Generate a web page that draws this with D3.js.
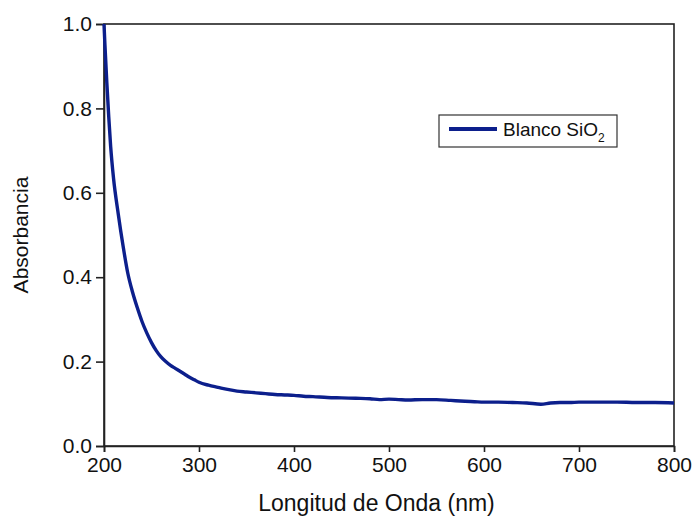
<!DOCTYPE html>
<html>
<head>
<meta charset="utf-8">
<script src="https://cdn.jsdelivr.net/npm/d3@7"></script>
<style>
  body { margin: 0; background: #fff; }
  text { font-family: 'Liberation Sans', Arial, sans-serif; fill: #111; }
</style>
</head>
<body>
<div id="chart"></div>
<script>
// wavelength (nm) and absorbance
const wavelength = [200, 201, 203, 205, 207, 210, 215, 220, 225, 230, 235, 240, 245, 250, 255, 260, 265, 270, 275, 280, 285, 290, 295, 300, 310, 320, 330, 340, 350, 360, 370, 380, 390, 400, 410, 420, 435, 450, 465, 480, 490, 500, 510, 520, 535, 550, 565, 580, 590, 600, 615, 630, 645, 660, 670, 680, 690, 700, 720, 740, 760, 780, 800];
const absorbance = [1.0, 0.95, 0.86, 0.78, 0.71, 0.635, 0.55, 0.475, 0.41, 0.365, 0.328, 0.295, 0.268, 0.245, 0.226, 0.211, 0.2, 0.191, 0.184, 0.177, 0.17, 0.163, 0.157, 0.151, 0.144, 0.139, 0.134, 0.130, 0.128, 0.126, 0.124, 0.122, 0.121, 0.120, 0.118, 0.117, 0.115, 0.114, 0.113, 0.112, 0.110, 0.111, 0.110, 0.109, 0.110, 0.110, 0.108, 0.106, 0.105, 0.104, 0.104, 0.103, 0.102, 0.099, 0.102, 0.103, 0.103, 0.104, 0.104, 0.104, 0.103, 0.103, 0.102];
const xTicks = [200, 300, 400, 500, 600, 700, 800];
const yTicks = [0.0, 0.2, 0.4, 0.6, 0.8, 1.0];

const style = {
  line: { color: '#0c1f8c', width: 3.4 },
  axis: { color: '#222', width: 1.6 },
  labels: { size: 21 },
};

const margin = { top: 24, right: 21, bottom: 72, left: 104 };
const W = 695, H = 518;
const width = W - margin.left - margin.right;
const height = H - margin.top - margin.bottom;

const x = d3.scaleLinear().domain([200, 800]).range([0, width]);
const y = d3.scaleLinear().domain([0, 1]).range([height, 0]);

const svg = d3.select('#chart').append('svg')
  .attr('width', W)
  .attr('height', H)
  .append('g')
  .attr('transform', `translate(${margin.left}, ${margin.top})`);

// frame
svg.append('rect')
  .attr('width', width)
  .attr('height', height)
  .attr('fill', 'none')
  .attr('stroke', style.axis.color)
  .attr('stroke-width', style.axis.width);

const xAxis = svg.append('g')
  .attr('transform', `translate(0, ${height})`)
  .call(d3.axisBottom(x).tickValues(xTicks).tickSize(6).tickPadding(5).tickFormat(d3.format('d')));

const yAxis = svg.append('g')
  .call(d3.axisLeft(y).tickValues(yTicks).tickSize(8).tickPadding(4).tickFormat(d3.format('.1f')));

[xAxis, yAxis].forEach((g) => {
  g.select('.domain').attr('stroke', style.axis.color).attr('stroke-width', style.axis.width);
  g.selectAll('line').attr('stroke', style.axis.color).attr('stroke-width', style.axis.width);
  g.selectAll('text')
    .attr('font-size', style.labels.size)
    .attr('font-family', "'Liberation Sans', Arial, sans-serif")
    .attr('fill', '#111');
});

// curve
const data = wavelength.map((w, i) => ({ w, a: absorbance[i] }));
svg.append('path')
  .datum(data)
  .attr('fill', 'none')
  .attr('stroke', style.line.color)
  .attr('stroke-width', style.line.width)
  .attr('stroke-linejoin', 'round')
  .attr('d', d3.line().x((d) => x(d.w)).y((d) => y(d.a)).curve(d3.curveMonotoneX));

// axis titles
svg.append('text')
  .attr('x', (255 + 498) / 2 - margin.left)
  .attr('y', 511 - margin.top)
  .attr('text-anchor', 'middle')
  .attr('font-size', 23)
  .text('Longitud de Onda (nm)');

svg.append('text')
  .attr('transform', `translate(${28 - margin.left}, ${235 - margin.top}) rotate(-90)`)
  .attr('text-anchor', 'middle')
  .attr('font-size', 21)
  .text('Absorbancia');

// legend
const legend = svg.append('g')
  .attr('transform', `translate(${439 - margin.left}, ${115 - margin.top})`);
legend.append('rect')
  .attr('width', 178)
  .attr('height', 32)
  .attr('fill', '#fff')
  .attr('stroke', '#333')
  .attr('stroke-width', 1.2);
legend.append('line')
  .attr('x1', 10).attr('x2', 58)
  .attr('y1', 14).attr('y2', 14)
  .attr('stroke', style.line.color)
  .attr('stroke-width', style.line.width + 0.6);
const lt = legend.append('text')
  .attr('x', 64)
  .attr('y', 21)
  .attr('font-size', 19);
lt.append('tspan').text('Blanco SiO');
lt.append('tspan').attr('dy', 6).attr('font-size', 12).text('2');
</script>
</body>
</html>
